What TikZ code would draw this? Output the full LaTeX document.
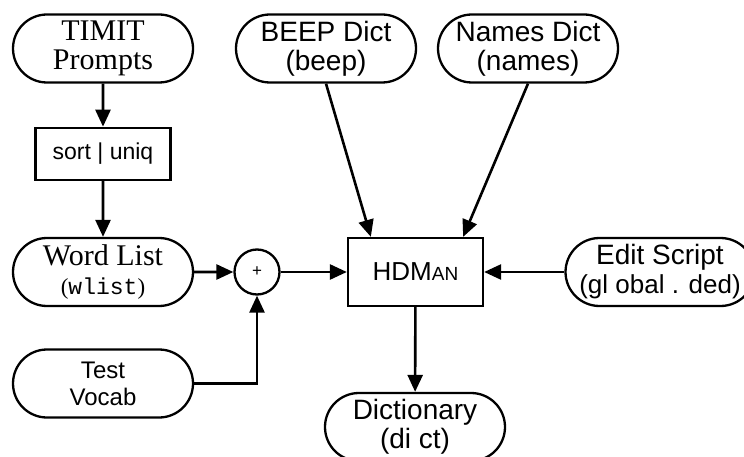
\documentclass[tikz,border=0pt]{standalone}
\usepackage{fontspec}
\setmainfont{Liberation Serif}
\setsansfont{Liberation Sans}
\setmonofont{Liberation Mono}
\usetikzlibrary{shapes.misc,arrows.meta,positioning}

\begin{document}
\begin{tikzpicture}[x=1pt,y=-1pt,line width=2.6pt,
        src/.style={rounded rectangle,draw,line width=2.3pt,minimum width=180pt,minimum height=68pt,inner sep=0pt,align=center},
        serif/.style={src,font=\fontsize{30}{29}\selectfont},
        sans/.style={src,font=\sffamily\fontsize{28}{29}\selectfont},
        proc/.style={rectangle,draw,line width=2.3pt,minimum width=135pt,inner sep=0pt,font=\sffamily\fontsize{23}{24}\selectfont},
        sum/.style={circle,draw,line width=2.3pt,minimum size=45pt,inner sep=0pt,font=\sffamily\fontsize{17}{17}\selectfont},
        flow/.style={-{Triangle[length=17pt,width=15pt]}}
      ]

  \clip (0,0) rectangle (744,457);

  \node   (timit) [serif] at (103,48.5) {TIMIT\\Prompts};
  \node   (sort) [proc,minimum height=52pt,below=43pt of timit] {sort | uniq};
  \node   (wlist) [serif] at (103,272) {Word List\\{\fontsize{23}{30}\selectfont(\texttt{wlist})}};
  \node   (vocab) [src,font=\sffamily\fontsize{24}{27}\selectfont] at (103,383.5) {Test\\Vocab};
  \node   (plus) [sum] at (257,272) {+};

  \node   (beep) [sans] at (326,48.5) {BEEP Dict\\(beep)};
  \node   (names) [sans] at (528,48.5) {Names Dict\\(names)};
  \node   (hdman) [proc,minimum height=68pt,font=\sffamily\fontsize{26}{26}\selectfont] at (415.5,272) {HDM{\fontsize{19}{19}\selectfont AN}};
  \node   (edit) [sans] at (660,272) {Edit Script\\{\fontsize{26}{29}\selectfont(gl obal . ded)}};
  \node   (dict) [sans] at (415,427) {Dictionary\\(di ct)};

  \draw[flow] (timit) -- (sort);
  \draw[flow] (sort) -- (wlist);
  \draw[flow] (wlist) -- (plus);
  \draw[flow] (vocab.east) -| (plus);
  \draw[flow] (plus) -- (hdman);
  \draw[flow] (beep.south) -- ([xshift=24pt]hdman.north west);
  \draw[flow] (names.south) -- ([xshift=-21pt]hdman.north east);
  \draw[flow] (edit) -- (hdman);
  \draw[flow] (hdman) -- (dict);

\end{tikzpicture}
\end{document}
